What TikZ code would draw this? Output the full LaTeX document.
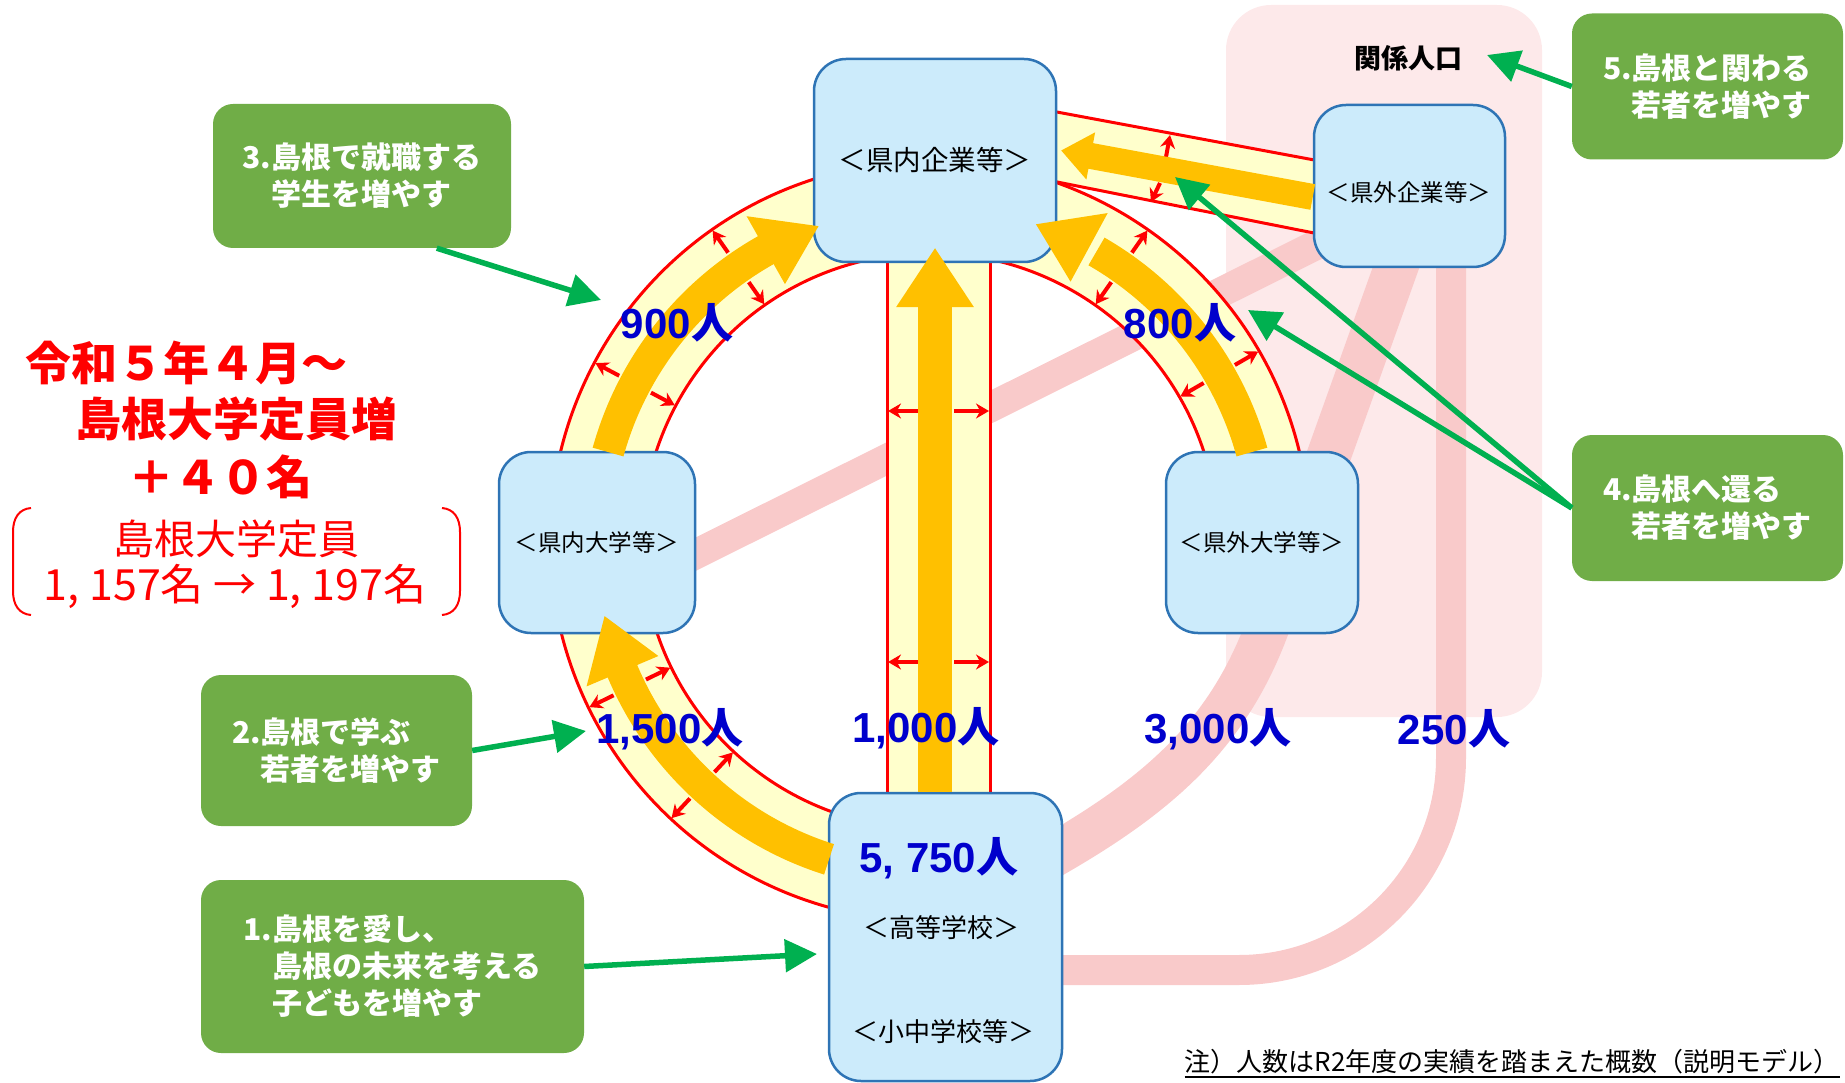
\documentclass[tikz,border=0pt]{standalone}
\usepackage{fontspec}
\setmainfont{Liberation Sans}
\newfontfamily\jp{Noto Sans CJK JP}
\usetikzlibrary{calc,arrows.meta}
\definecolor{bandY}{HTML}{FFFFCC}
\definecolor{arrY}{HTML}{FFC000}
\definecolor{redL}{HTML}{FF0000}
\definecolor{boxF}{HTML}{CCEBFB}
\definecolor{boxD}{HTML}{2E74B5}
\definecolor{grnF}{HTML}{70AD47}
\definecolor{grnA}{HTML}{00B050}
\definecolor{pinkBg}{HTML}{FDE9EA}
\definecolor{pinkB}{HTML}{F9CACA}
\definecolor{numB}{HTML}{0000CC}
\begin{document}
\begin{tikzpicture}[x=1pt,y=-1pt,
  box/.style={draw=boxD, line width=2.5, fill=boxF, rounded corners=32, inner sep=0, align=center},
  gbox/.style={fill=grnF, rounded corners=20, inner sep=0, text=white, align=left, font=\jp\bfseries\fontsize{30}{37}\selectfont},
  garr/.style={draw=grnA, line width=5.5, -{Triangle[length=32pt,width=32pt]}},
  sarr/.style={draw=redL, line width=4, -{Stealth[length=13pt,width=15pt]}},
  redline/.style={draw=redL, line width=3},
  nlab/.style={text=numB, inner sep=0, font=\bfseries\fontsize{42}{44}\selectfont},
  rtxt/.style={text=redL, inner sep=0, anchor=west, font=\jp\bfseries\fontsize{46}{50}\selectfont},
  rtxtb/.style={text=redL, inner sep=0, font=\jp\fontsize{41}{44}\selectfont},
  shaft/.style={draw=arrY, line width=32},
  btxt/.style={inner sep=0, font=\jp\fontsize{26}{28}\selectfont},
]
\useasboundingbox (0,0) rectangle (1845,1083);
\coordinate (C) at (930,541);

% pink background and bands
\fill[pinkBg, rounded corners=45] (1226,5) rectangle (1542,717);
\draw[pinkB, line width=30] (680,562) -- (1330,238);
\draw[pinkB, line width=44] (1045,860) .. controls (1160,795) and (1230,733) .. (1270,620) -- (1403,248);
\draw[pinkB, line width=30, rounded corners=212] (1451,250) -- (1451,970) -- (1045,970);

% yellow bands
\fill[bandY] ($(C)+(-10:380)$) arc[start angle=-10,end angle=-262,radius=380]
  -- ($(C)+(-262:288)$) arc[start angle=-262,end angle=-10,radius=288] -- cycle;
\fill[bandY] (887,255) rectangle (990,800);
\fill[bandY] (1045,109.8) -- (1325,162) -- (1325,235.2) -- (1045,179.6) -- cycle;

% red outlines
\draw[redline] ($(C)+(-10:380)$) arc[start angle=-10,end angle=-262,radius=380];
\draw[redline] ($(C)+(-10:288)$) arc[start angle=-10,end angle=-262,radius=288];
\draw[redline] (887,255) -- (887,800);
\draw[redline] (990,255) -- (990,800);
\draw[redline] (1045,109.8) -- (1325,162);
\draw[redline] (1045,179.6) -- (1325,235.2);

% small red arrows
\foreach \a in {125,152,55,30,206,227} {
  \draw[sarr] ($(C)+(-\a:352)$) -- ($(C)+(-\a:379)$);
  \draw[sarr] ($(C)+(-\a:316)$) -- ($(C)+(-\a:289)$);
}
\foreach \y in {411,662} {
  \draw[sarr] (920,\y) -- (888,\y);
  \draw[sarr] (954,\y) -- (989,\y);
}
\draw[sarr] (1166,157) -- (1170,135);
\draw[sarr] (1160,183) -- (1151,202);

% boxes
\node[box, minimum width=242, minimum height=203, font=\jp\fontsize{27.5}{30}\selectfont] (kigyo) at (935,160.5) {＜県内企業等＞};
\node[box, minimum width=191, minimum height=162] (gkigyo) at (1409.5,186) {};
\node[box, minimum width=196, minimum height=181, font=\jp\fontsize{23.5}{26}\selectfont] (daigaku) at (597,542.5) {＜県内大学等＞};
\node[box, minimum width=192, minimum height=181, font=\jp\fontsize{23.5}{26}\selectfont] (gdaigaku) at (1262,542.5) {＜県外大学等＞};
\node[box, minimum width=233, minimum height=288] (koko) at (945.5,937) {};
\node[inner sep=0, font=\jp\fontsize{23.5}{26}\selectfont] (gkt) at (1409,193) {＜県外企業等＞};

% yellow arrows
\draw[shaft] ($(C)+(-164.55:334)$) arc[start angle=-164.55,end angle=-118,radius=334];
\fill[arrY] ($(C)+(-119.45:373)$) -- ($(C)+(-119.45:295)$) -- ($(C)+(-109.5:334)$) -- cycle;
\draw[shaft] ($(C)+(-15.45:334)$) arc[start angle=-15.45,end angle=-60.1,radius=334];
\fill[arrY] ($(C)+(-61.55:373)$) -- ($(C)+(-61.55:295)$) -- ($(C)+(-71.5:334)$) -- cycle;
\draw[shaft] ($(C)+(-252.4:334)$) arc[start angle=-252.4,end angle=-201.5,radius=334];
\fill[arrY] ($(C)+(-202.95:373)$) -- ($(C)+(-202.95:295)$) -- ($(C)+(-193:334)$) -- cycle;
% vertical
\draw[arrY, line width=34] (koko.north -| kigyo.south) -- ($(kigyo.south)+(0,40)$);
\fill[arrY] ($(kigyo.south)+(-39,44)$) -- ($(kigyo.south)+(39,44)$) -- ($(kigyo.south)+(0,-15)$) -- cycle;
% horizontal
\coordinate (hs) at ([yshift=-11pt]gkigyo.west);
\coordinate (ht) at ([xshift=4pt,yshift=10pt]kigyo.east);
\coordinate (hb) at ($(ht)!30pt!(hs)$);
\draw[arrY, line width=26] (hs) -- ($(ht)!27pt!(hs)$);
\fill[arrY] ($(hb)!24pt!90:(ht)$) -- (ht) -- ($(hb)!24pt!-90:(ht)$) -- cycle;

% number labels
\node[nlab] (n900) at (677,323) {900{\jp 人}};
\node[nlab] (n800) at (1180,323) {800{\jp 人}};
\node[nlab] (n1500) at (670,729) {1,500{\jp 人}};
\node[nlab] (n1000) at (926,728) {1,000{\jp 人}};
\node[nlab] (n3000) at (1218,729) {3,000{\jp 人}};
\node[nlab] (n250) at (1454,729) {250{\jp 人}};
\node[nlab] (n5750) at (939,858) {5, 750{\jp 人}};
\node[btxt] (kk1) at (941,928) {＜高等学校＞};
\node[btxt] (kk2) at (943,1032) {＜小中学校等＞};
\node[inner sep=0, font=\jp\bfseries\fontsize{27}{30}\selectfont] (kankei) at (1408,58) {関係人口};

% left red text
\node[rtxt] (r1) at (25,363) {令和５年４月～};
\node[rtxt] (r2) at (75,419) {島根大学定員増};
\node[rtxt] (r3) at (128,477) {＋４０名};
\node[rtxtb] (r4) at (236,539) {島根大学定員};
\node[rtxtb, font=\jp\fontsize{43}{46}\selectfont] (r5) at (235,586) {1, 157名 → 1, 197名};
\draw[redL, line width=2] (31,508) .. controls (19,509) and (13,518) .. (13,532) -- (13,591) .. controls (13,605) and (19,614) .. (31,615);
\draw[redL, line width=2] (442,508) .. controls (454,509) and (460,518) .. (460,532) -- (460,591) .. controls (460,605) and (454,614) .. (442,615);

% green boxes
\node[gbox, minimum width=271, minimum height=146] (g5) at (1707.5,86.5) {5.島根と関わる\\\hphantom{5.}若者を増やす};
\node[gbox, minimum width=298, minimum height=144] (g3) at (362,176) {3.島根で就職する\\\hphantom{3.}学生を増やす};
\node[gbox, minimum width=271, minimum height=146] (g4) at (1707.5,508) {4.島根へ還る\\\hphantom{4.}若者を増やす};
\node[gbox, minimum width=271, minimum height=151] (g2) at (336.5,750.5) {2.島根で学ぶ\\\hphantom{2.}若者を増やす};
\node[gbox, minimum width=383, minimum height=173] (g1) at (392.5,966.5) {1.島根を愛し、\\\hphantom{1.}島根の未来を考える\\\hphantom{1.}子どもを増やす};

% green arrows
\coordinate (t5) at (1487,55);
\coordinate (t3) at (601,300);
\coordinate (t4a) at (1175,177);
\coordinate (t4b) at (1248,310);
\coordinate (t2) at (586,731);
\coordinate (t1) at (817,954);
\draw[garr] (g5.west) -- (t5);
\draw[garr] (g3.-44) -- (t3);
\draw[garr] (g4.west) -- (t4a);
\draw[garr] (g4.west) -- (t4b);
\draw[garr] (g2.east) -- (t2);
\draw[garr] (g1.east) -- (t1);

% footnote
\node[inner sep=0, anchor=base east, font=\jp\fontsize{26}{28}\selectfont] (note) at (1840,1071) {注）人数はR2年度の実績を踏まえた概数（説明モデル）};
\draw[line width=1.3] ([yshift=-6pt]note.base west) -- ([yshift=-6pt]note.base east);
\end{tikzpicture}
\end{document}
